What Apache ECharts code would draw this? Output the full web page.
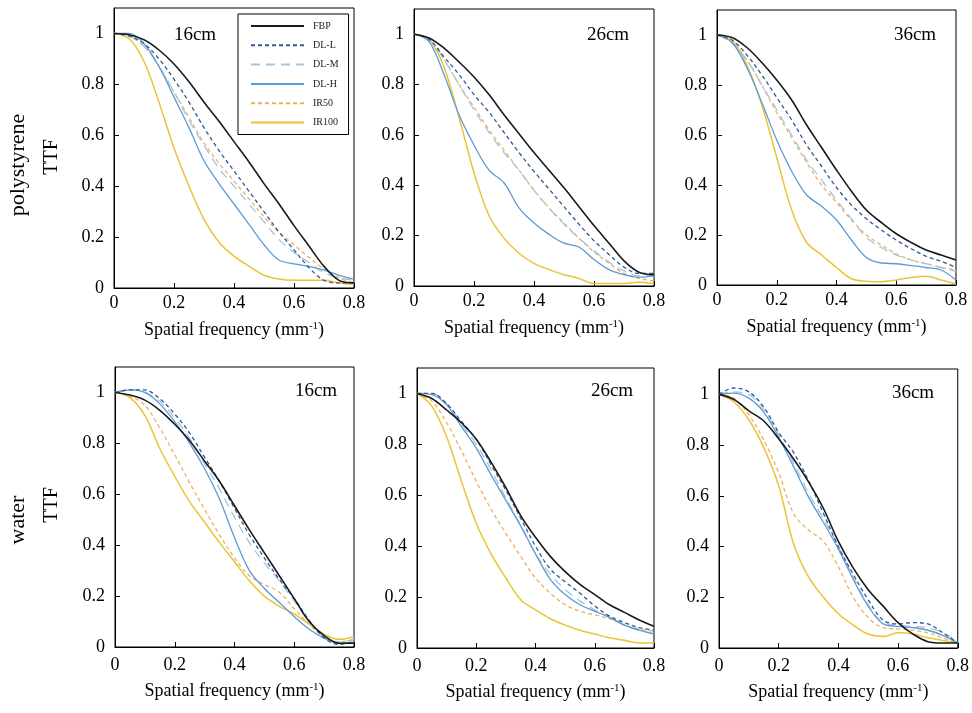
<!DOCTYPE html>
<html><head><meta charset="utf-8">
<script src="https://cdn.jsdelivr.net/npm/echarts@6/dist/echarts.min.js"></script>
<style>html,body{margin:0;padding:0;background:#fff}#c{width:972px;height:713px}</style>
</head><body><div id="c"></div>
<script>
// Spatial frequency sample points (mm^-1)
const freq = [0,0.05,0.1,0.15,0.2,0.25,0.3,0.35,0.4,0.45,0.5,0.55,0.6,0.65,0.7,0.75,0.8];
const seriesNames = ['FBP','DL-L','DL-M','DL-H','IR50','IR100'];
const panelLabels = ['16cm','26cm','36cm','16cm','26cm','36cm'];
const xTickLabels = ['0','0.2','0.4','0.6','0.8'];

// polystyrene 16cm
const poly16_FBP  = [1,0.995,0.975,0.935,0.88,0.81,0.73,0.655,0.575,0.495,0.41,0.33,0.245,0.165,0.085,0.03,0.02];
const poly16_DLL  = [1,0.99,0.96,0.9,0.82,0.73,0.63,0.54,0.46,0.38,0.3,0.22,0.15,0.08,0.03,0.02,0.02];
const poly16_DLM  = [1,0.99,0.95,0.87,0.77,0.66,0.56,0.47,0.40,0.33,0.26,0.19,0.14,0.10,0.06,0.04,0.03];
const poly16_DLH  = [1,1.0,0.96,0.87,0.75,0.63,0.5,0.41,0.33,0.25,0.17,0.11,0.095,0.085,0.07,0.05,0.035];
const poly16_IR50 = [1,0.99,0.95,0.87,0.77,0.67,0.57,0.49,0.42,0.35,0.28,0.22,0.17,0.12,0.075,0.04,0.02];
const poly16_IR100= [1,0.98,0.89,0.73,0.55,0.40,0.27,0.18,0.125,0.085,0.05,0.035,0.03,0.03,0.03,0.02,0.015];
// polystyrene 26cm
const poly26_FBP  = [1,0.985,0.945,0.89,0.83,0.76,0.68,0.605,0.53,0.46,0.39,0.315,0.24,0.17,0.10,0.055,0.045];
const poly26_DLL  = [1,0.98,0.91,0.84,0.76,0.69,0.61,0.53,0.455,0.385,0.315,0.245,0.18,0.125,0.075,0.05,0.05];
const poly26_DLM  = [1,0.98,0.9,0.8,0.7,0.61,0.53,0.46,0.38,0.31,0.245,0.19,0.14,0.095,0.06,0.04,0.04];
const poly26_DLH  = [1,0.97,0.84,0.68,0.56,0.46,0.41,0.31,0.25,0.205,0.17,0.155,0.105,0.065,0.045,0.035,0.04];
const poly26_IR50 = [1,0.98,0.9,0.8,0.71,0.62,0.54,0.46,0.38,0.31,0.25,0.19,0.135,0.09,0.05,0.03,0.02];
const poly26_IR100= [1,0.98,0.87,0.67,0.45,0.28,0.19,0.13,0.09,0.065,0.045,0.03,0.01,0.01,0.01,0.015,0.01];
// polystyrene 36cm
const poly36_FBP  = [1,0.99,0.95,0.89,0.82,0.74,0.64,0.55,0.46,0.375,0.30,0.25,0.205,0.17,0.14,0.12,0.10];
const poly36_DLL  = [1,0.98,0.92,0.84,0.75,0.66,0.56,0.475,0.39,0.32,0.265,0.22,0.18,0.145,0.115,0.095,0.07];
const poly36_DLM  = [1,0.97,0.9,0.8,0.7,0.6,0.5,0.42,0.34,0.265,0.19,0.15,0.12,0.1,0.085,0.07,0.055];
const poly36_DLH  = [1,0.97,0.87,0.73,0.58,0.455,0.36,0.315,0.26,0.18,0.11,0.088,0.085,0.078,0.07,0.06,0.02];
const poly36_IR50 = [1,0.97,0.9,0.8,0.69,0.59,0.49,0.4,0.33,0.26,0.2,0.16,0.125,0.1,0.085,0.07,0.06];
const poly36_IR100= [1,0.98,0.88,0.72,0.51,0.30,0.17,0.12,0.07,0.025,0.015,0.013,0.02,0.03,0.035,0.02,0.005];
// water 16cm
const water16_FBP  = [1,0.99,0.97,0.93,0.875,0.81,0.73,0.65,0.555,0.46,0.37,0.28,0.19,0.10,0.045,0.015,0.015];
const water16_DLL  = [1,1.01,1.01,0.975,0.915,0.84,0.745,0.65,0.545,0.44,0.35,0.265,0.19,0.105,0.035,0.01,0.02];
const water16_DLM  = [1,1.01,1.0,0.965,0.9,0.82,0.72,0.62,0.51,0.41,0.33,0.26,0.18,0.1,0.04,0.02,0.03];
const water16_DLH  = [1,1.01,1.0,0.955,0.885,0.8,0.7,0.58,0.43,0.30,0.23,0.175,0.12,0.07,0.035,0.015,0.02];
const water16_IR50 = [1,0.985,0.95,0.86,0.755,0.645,0.54,0.44,0.35,0.28,0.245,0.215,0.15,0.09,0.04,0.02,0.03];
const water16_IR100= [1,0.98,0.91,0.78,0.67,0.57,0.49,0.41,0.335,0.26,0.2,0.16,0.13,0.09,0.05,0.03,0.04];
// water 26cm
const water26_FBP  = [1,0.98,0.935,0.885,0.82,0.73,0.63,0.52,0.435,0.36,0.30,0.25,0.21,0.17,0.14,0.11,0.085];
const water26_DLL  = [1,1.0,0.96,0.89,0.82,0.72,0.62,0.51,0.40,0.31,0.26,0.215,0.165,0.125,0.1,0.08,0.07];
const water26_DLM  = [1,1.0,0.96,0.88,0.8,0.7,0.59,0.48,0.37,0.29,0.23,0.185,0.15,0.12,0.09,0.07,0.055];
const water26_DLH  = [1,0.995,0.955,0.87,0.785,0.68,0.58,0.48,0.37,0.27,0.21,0.17,0.145,0.12,0.09,0.07,0.055];
const water26_IR50 = [1,0.97,0.885,0.775,0.655,0.545,0.45,0.36,0.275,0.215,0.17,0.145,0.13,0.115,0.09,0.075,0.065];
const water26_IR100= [1,0.95,0.83,0.655,0.49,0.37,0.275,0.19,0.15,0.115,0.09,0.07,0.055,0.04,0.03,0.02,0.02];
// water 36cm
const water36_FBP  = [1,0.98,0.935,0.895,0.825,0.745,0.655,0.55,0.42,0.315,0.23,0.165,0.1,0.055,0.025,0.02,0.02];
const water36_DLL  = [1,1.025,1.01,0.95,0.85,0.77,0.66,0.53,0.40,0.29,0.19,0.11,0.095,0.1,0.095,0.06,0.02];
const water36_DLM  = [1,1.01,1.0,0.94,0.84,0.73,0.61,0.51,0.40,0.28,0.17,0.1,0.09,0.085,0.08,0.06,0.025];
const water36_DLH  = [1,1.005,0.985,0.93,0.83,0.715,0.595,0.495,0.39,0.27,0.165,0.095,0.085,0.08,0.07,0.05,0.02];
const water36_IR50 = [1,0.985,0.92,0.82,0.69,0.53,0.465,0.42,0.32,0.2,0.12,0.08,0.075,0.07,0.06,0.04,0.02];
const water36_IR100= [1,0.97,0.9,0.79,0.64,0.41,0.28,0.2,0.135,0.09,0.055,0.045,0.06,0.055,0.04,0.03,0.02];

const panels = [
  [poly16_FBP, poly16_DLL, poly16_DLM, poly16_DLH, poly16_IR50, poly16_IR100],
  [poly26_FBP, poly26_DLL, poly26_DLM, poly26_DLH, poly26_IR50, poly26_IR100],
  [poly36_FBP, poly36_DLL, poly36_DLM, poly36_DLH, poly36_IR50, poly36_IR100],
  [water16_FBP, water16_DLL, water16_DLM, water16_DLH, water16_IR50, water16_IR100],
  [water26_FBP, water26_DLL, water26_DLM, water26_DLH, water26_IR50, water26_IR100],
  [water36_FBP, water36_DLL, water36_DLM, water36_DLH, water36_IR50, water36_IR100]
];

const FONT = "'Liberation Serif','Times New Roman',serif";
const lineStyles = {
  'FBP':   {color:'#1a1a1a', type:'solid', width:1.6},
  'DL-L':  {color:'#2E5B92', type:[4,3], width:1.3},
  'DL-M':  {color:'#A3C5E0', type:[9,6], width:1.3},
  'DL-H':  {color:'#5B9BD5', type:'solid', width:1.3},
  'IR50':  {color:'#EDB061', type:[4,3], width:1.3},
  'IR100': {color:'#EBC436', type:'solid', width:1.5}
};

const gridPos = [
  {left:114, top:8,   width:240, height:280},
  {left:414, top:9,   width:240, height:277},
  {left:717, top:10,  width:239, height:275},
  {left:115, top:367, width:239, height:280},
  {left:417, top:368, width:237, height:280},
  {left:719, top:369, width:239, height:279}
];
const labelPos = [[195,35],[608,35],[915,35],[316,391],[612,391],[913,393]];

const grid = [], xAxis = [], yAxis = [], series = [];
gridPos.forEach((g, i) => {
  grid.push(Object.assign({show:true, borderColor:'#000', borderWidth:1, backgroundColor:'transparent'}, g));
  xAxis.push({
    type:'value', gridIndex:i, min:0, max:0.8, interval:0.2,
    axisLine:{show:true, onZero:false, lineStyle:{color:'#000', width:1}},
    axisTick:{show:true, inside:true, length:5, lineStyle:{color:'#000'}},
    splitLine:{show:false},
    axisLabel:{color:'#000', fontFamily:FONT, fontSize:18, margin: i < 3 ? 6 : 9,
      formatter: v => xTickLabels[Math.round(v / 0.2)]},
    name:'{n|Spatial frequency (mm}{s|-1}{n|)}',
    nameLocation:'middle', nameGap: i < 3 ? 33 : 35,
    nameTextStyle:{rich:{
      n:{fontFamily:FONT, fontSize:18, color:'#000'},
      s:{fontFamily:FONT, fontSize:11, color:'#000', verticalAlign:'top', padding:[0,0,6,0]}
    }}
  });
  yAxis.push({
    type:'value', gridIndex:i, min:0, max:1.1, interval:0.2,
    axisLine:{show:true, onZero:false, lineStyle:{color:'#000', width:1}},
    axisTick:{show:true, inside:true, length:5, lineStyle:{color:'#000'}},
    splitLine:{show:false},
    axisLabel:{color:'#000', fontFamily:FONT, fontSize:18, margin:10, showMaxLabel:false,
      formatter: v => (Math.abs(v - 1.1) < 1e-6 ? '' : String(Math.round(v*10)/10))}
  });
  // draw order: lighter curves first, FBP last
  const order = [5,4,2,3,1,0];
  order.forEach(k => {
    const name = seriesNames[k];
    series.push({
      name, type:'line', xAxisIndex:i, yAxisIndex:i,
      data: freq.map((f, j) => [f, panels[i][k][j]]),
      showSymbol:false, symbol:'none', smooth:0.35,
      lineStyle: Object.assign({}, lineStyles[name]),
      itemStyle:{color: lineStyles[name].color},
      emphasis:{disabled:true}, animation:false
    });
  });
});

const graphic = [];
labelPos.forEach((p, i) => {
  graphic.push({type:'text', x:p[0], y:p[1], style:{text:panelLabels[i], font:'19px ' + FONT, fill:'#000', textAlign:'center', textVerticalAlign:'middle'}});
});
[['polystyrene',18,165,22],['TTF',52,157,20],['water',18,520,22],['TTF',52,505,20]].forEach(t => {
  graphic.push({type:'text', x:t[1], y:t[2], rotation:Math.PI/2,
    style:{text:t[0], font:t[3] + 'px ' + FONT, fill:'#000', textAlign:'center', textVerticalAlign:'middle'}});
});

const chart = echarts.init(document.getElementById('c'), null, {renderer:'canvas'});
chart.setOption({
  animation:false,
  backgroundColor:'#fff',
  grid, xAxis, yAxis, series, graphic,
  legend:{
    data: seriesNames,
    orient:'vertical', left:238, top:14,
    padding:[7,10,7,12], itemWidth:53, itemHeight:12, itemGap:9.3,
    borderColor:'#000', borderWidth:1, backgroundColor:'#fff',
    itemStyle:{opacity:0, borderWidth:0},
    textStyle:{fontFamily:FONT, fontSize:10, color:'#222', padding:[0,0,0,4]},
    selectedMode:false
  }
});
</script></body></html>
